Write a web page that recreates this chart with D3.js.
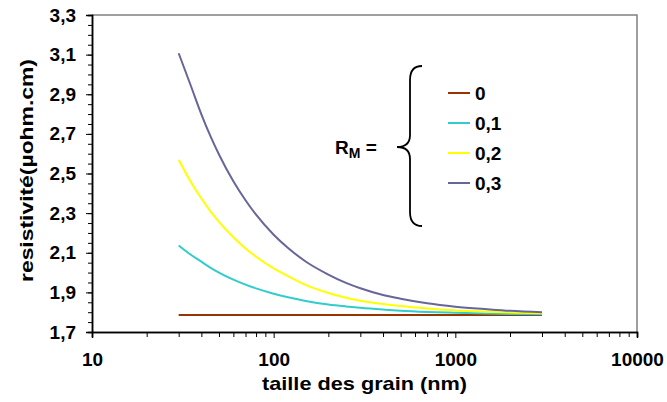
<!DOCTYPE html>
<html><head><meta charset="utf-8">
<script src="https://cdn.jsdelivr.net/npm/d3@7"></script>
<style>
body{margin:0;background:#fff;}
text{font-family:"Liberation Sans",Arial,sans-serif;font-weight:bold;fill:#000;}
</style></head>
<body><svg id="c" width="667" height="402"></svg>
<script>
// grain sizes (nm)
const grain = [30,35,40,45,50,60,70,80,100,120,150,200,250,300,400,500,700,1000,1500,2000,3000];
// resistivity for each R_M
const rm00 = [1.786,1.786,1.786,1.786,1.786,1.786,1.786,1.786,1.786,1.786,1.786,1.786,1.786,1.786,1.786,1.786,1.786,1.786,1.786,1.786,1.786];
const rm01 = [2.137,2.090,2.055,2.024,2.000,1.964,1.939,1.920,1.893,1.875,1.857,1.839,1.829,1.822,1.813,1.807,1.801,1.797,1.793,1.791,1.790];
const rm02 = [2.569,2.457,2.374,2.308,2.256,2.178,2.122,2.080,2.021,1.982,1.938,1.897,1.873,1.858,1.841,1.831,1.819,1.809,1.802,1.798,1.794];
const rm03 = [3.107,2.943,2.799,2.686,2.596,2.461,2.365,2.292,2.191,2.124,2.056,1.990,1.948,1.921,1.887,1.868,1.845,1.828,1.815,1.807,1.800];
const seriesNames = ["0","0,1","0,2","0,3"];
const seriesColors = ["#993300","#33CCCC","#FFFF00","#666699"];
const yMajor = [1.7,1.9,2.1,2.3,2.5,2.7,2.9,3.1,3.3];
const xMajor = [10,100,1000,10000];

const svg = d3.select("#c");
const L=92,R=637,T=15,B=332;
const x = d3.scaleLog().domain([10,10000]).range([L,R]);
const y = d3.scaleLinear().domain([1.7,3.3]).range([B,T]);

// plot border (gray)
svg.append("path").attr("d",`M${L},${T}H${R}V${B}`).attr("fill","none").attr("stroke","#808080").attr("stroke-width",1.5);

const fmt = d => d3.format(".1f")(d).replace(".",",");
const yMinor = d3.range(1.7,3.3001,0.05).map(v=>+v.toFixed(2));
svg.append("g").attr("transform",`translate(${L},0)`)
  .call(d3.axisLeft(y).tickValues(yMinor).tickSize(4).tickFormat(""));
svg.append("g").attr("transform",`translate(${L},0)`)
  .call(d3.axisLeft(y).tickValues(yMajor).tickSize(6).tickPadding(10).tickFormat(fmt));
const xMinor = [];
[10,100,1000].forEach(b=>{for(let k=2;k<=9;k++) xMinor.push(b*k);});
svg.append("g").attr("transform",`translate(0,${B})`)
  .call(d3.axisBottom(x).tickValues(xMinor).tickSize(5).tickFormat(""));
svg.append("g").attr("transform",`translate(0,${B})`)
  .call(d3.axisBottom(x).tickValues(xMajor).tickSize(6).tickPadding(15).tickFormat(d3.format("d")));
svg.selectAll(".domain").attr("stroke","#000").attr("stroke-width",1.5);
svg.selectAll(".tick line").attr("stroke","#000");
svg.selectAll(".tick text").style("font-size","19px").style("font-family","'Liberation Sans',Arial,sans-serif").style("font-weight","bold");

// axis titles
svg.append("text").attr("x",(L+R)/2).attr("y",390).attr("text-anchor","middle").style("font-size","19px")
  .attr("textLength",205).attr("lengthAdjust","spacingAndGlyphs").text("taille des grain (nm)");
svg.append("text").attr("transform",`translate(33,${(T+B)/2-3}) rotate(-90)`).attr("text-anchor","middle").style("font-size","19px")
  .attr("textLength",223).attr("lengthAdjust","spacingAndGlyphs").text("resistivité(µohm.cm)");

// lines
const line = d3.line().x(d=>x(d[0])).y(d=>y(d[1])).curve(d3.curveMonotoneX);
[rm00,rm01,rm02,rm03].forEach((s,i)=>{
  svg.append("path").datum(grain.map((g,j)=>[g,s[j]])).attr("d",line)
    .attr("fill","none").attr("stroke",seriesColors[i]).attr("stroke-width",2);
});

// legend
const ly = [93,123,153,183];
seriesNames.forEach((n,i)=>{
  svg.append("line").attr("x1",448).attr("x2",470).attr("y1",ly[i]).attr("y2",ly[i]).attr("stroke",seriesColors[i]).attr("stroke-width",2);
  svg.append("text").attr("x",475).attr("y",ly[i]+7).style("font-size","19px").text(n);
});
// R_M =
const rt = svg.append("text").attr("x",335).attr("y",154).style("font-size","19px");
rt.append("tspan").text("R");
rt.append("tspan").attr("dy",4).style("font-size","14px").text("M");
rt.append("tspan").attr("dy",-4).text(" =");
// brace
svg.append("path").attr("d","M422,66 Q410,66 410,80 L410,135 Q410,147 397,147 Q410,147 410,159 L410,212 Q410,226 422,226")
  .attr("fill","none").attr("stroke","#000").attr("stroke-width",1.8);
</script></body></html>
